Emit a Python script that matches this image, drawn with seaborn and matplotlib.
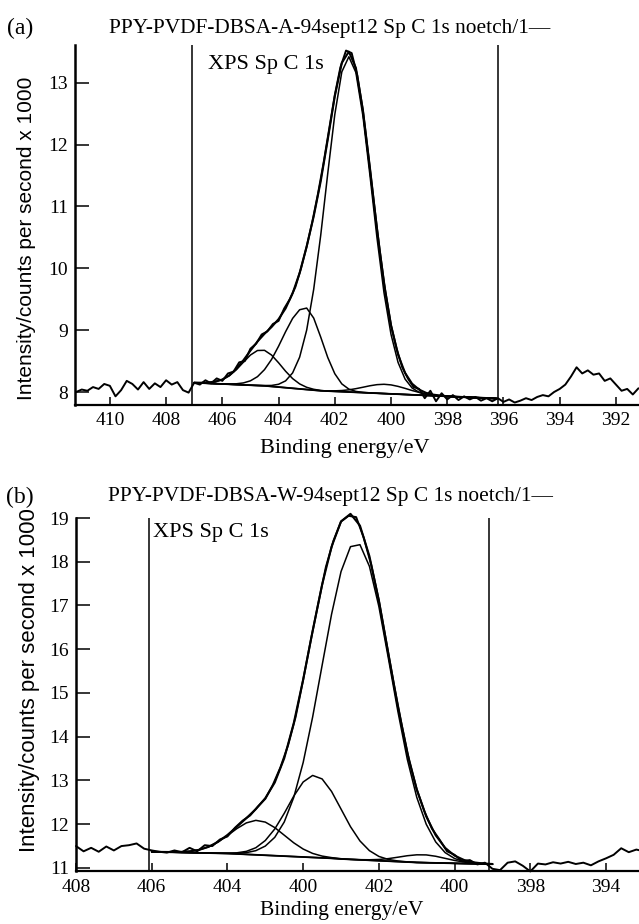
import numpy as np
import matplotlib
matplotlib.use("Agg")
import matplotlib.pyplot as plt
import seaborn as sns

sns.set_theme(style="ticks")
plt.rcParams["font.family"] = ["Liberation Serif", "DejaVu Serif"]

# ---------------- panel (a) data ----------------
a_panel = "(a)"
a_title = "PPY-PVDF-DBSA-A-94sept12 Sp C 1s noetch/1\u2014"
a_region = "XPS Sp C 1s"
a_window = [407.08, 396.2]
a_xticks = [410, 408, 406, 404, 402, 400, 398, 396, 394, 392]
a_xticklabels = ["410", "408", "406", "404", "402", "400", "398", "396", "394", "392"]
a_yticks = [8, 9, 10, 11, 12, 13]
a_raw_energy = np.linspace(411.2, 391.2, 101)
a_raw = [8.00, 8.04, 8.02, 8.08, 8.05, 8.13, 8.10, 7.93, 8.03, 8.18,
         8.13, 8.04, 8.16, 8.05, 8.14, 8.08, 8.19, 8.12, 8.16, 8.03,
         7.99, 8.15, 8.12, 8.19, 8.14, 8.22, 8.18, 8.30, 8.33, 8.48,
         8.50, 8.70, 8.78, 8.93, 8.98, 9.10, 9.15, 9.35, 9.50, 9.70,
         10.00, 10.35, 10.75, 11.20, 11.70, 12.25, 12.80, 13.25, 13.52, 13.48,
         13.12, 12.55, 11.80, 11.03, 10.28, 9.62, 9.08, 8.70, 8.40, 8.22,
         8.08, 8.05, 7.90, 8.02, 7.85, 7.98, 7.88, 7.95, 7.87, 7.93,
         7.88, 7.92, 7.86, 7.90, 7.85, 7.90, 7.84, 7.88, 7.83, 7.86,
         7.90, 7.87, 7.92, 7.95, 7.93, 8.00, 8.05, 8.12, 8.25, 8.40,
         8.30, 8.35, 8.28, 8.30, 8.18, 8.22, 8.12, 8.02, 8.05, 7.96,
         8.06]
a_fit_energy = np.linspace(407.0, 396.25, 44)
a_baseline = [8.15, 8.145, 8.14, 8.135, 8.13, 8.125, 8.12, 8.115, 8.11, 8.105,
              8.10, 8.09, 8.08, 8.07, 8.06, 8.05, 8.04, 8.03, 8.02, 8.015,
              8.01, 8.005, 8.0, 7.995, 7.99, 7.985, 7.98, 7.975, 7.97, 7.965,
              7.96, 7.955, 7.95, 7.945, 7.94, 7.935, 7.93, 7.925, 7.92, 7.915,
              7.91, 7.905, 7.9, 7.895]
a_peak1 = [0.001, 0.004, 0.012, 0.031, 0.07, 0.139, 0.241, 0.367, 0.488, 0.566,
           0.574, 0.508, 0.393, 0.266, 0.157, 0.081, 0.036, 0.014, 0.005, 0,
           0, 0, 0, 0, 0, 0, 0, 0, 0, 0,
           0, 0, 0, 0, 0, 0, 0, 0, 0, 0,
           0, 0, 0, 0]
a_peak2 = [0, 0, 0.001, 0.001, 0.002, 0.005, 0.013, 0.032, 0.071, 0.143,
           0.262, 0.436, 0.66, 0.905, 1.13, 1.28, 1.317, 1.165, 0.867, 0.543,
           0.286, 0.126, 0.047, 0.015, 0.004, 0.001, 0, 0, 0, 0,
           0, 0, 0, 0, 0, 0, 0, 0, 0, 0,
           0, 0, 0, 0]
a_peak3 = [0, 0, 0, 0, 0, 0, 0, 0, 0, 0.002,
           0.005, 0.016, 0.045, 0.11, 0.249, 0.514, 0.961, 1.631, 2.516, 3.52,
           4.475, 5.171, 5.42, 5.171, 4.475, 3.52, 2.516, 1.631, 0.961, 0.514,
           0.249, 0.11, 0.045, 0.016, 0.005, 0.001, 0, 0, 0, 0,
           0, 0, 0, 0]
a_peak4 = [0, 0, 0, 0, 0, 0, 0, 0, 0, 0,
           0, 0, 0, 0, 0, 0, 0, 0, 0, 0.004,
           0.009, 0.019, 0.035, 0.059, 0.087, 0.116, 0.139, 0.15, 0.145, 0.126,
           0.099, 0.069, 0.044, 0.025, 0.013, 0.006, 0.002, 0, 0, 0,
           0, 0, 0, 0]
a_envelope = [8.151, 8.15, 8.154, 8.169, 8.202, 8.269, 8.374, 8.514, 8.669, 8.816,
              8.941, 9.05, 9.178, 9.351, 9.596, 9.925, 10.354, 10.84, 11.408, 12.082,
              12.78, 13.321, 13.502, 13.24, 12.556, 11.622, 10.635, 9.756, 9.076, 8.605,
              8.308, 8.134, 8.039, 7.986, 7.958, 7.942, 7.932, 7.925, 7.92, 7.915,
              7.91, 7.905, 7.9, 7.895]

# ---------------- panel (b) data ----------------
b_panel = "(b)"
b_title = "PPY-PVDF-DBSA-W-94sept12 Sp C 1s noetch/1\u2014"
b_region = "XPS Sp C 1s"
b_window = [406.07, 397.09]
b_xticks = [408, 406, 404, 402, 400, 398, 396, 394]
b_xticklabels = ["408", "406", "404", "400", "402", "400", "398", "394"]
b_yticks = [11, 12, 13, 14, 15, 16, 17, 18, 19]
b_raw_energy = np.linspace(408.0, 393.0, 76)
b_raw = [11.50, 11.38, 11.46, 11.37, 11.49, 11.40, 11.50, 11.52, 11.56, 11.44,
         11.40, 11.37, 11.35, 11.40, 11.36, 11.46, 11.38, 11.52, 11.50, 11.65,
         11.72, 11.92, 12.08, 12.20, 12.40, 12.58, 12.90, 13.30, 13.80, 14.45,
         15.30, 16.20, 17.05, 17.88, 18.48, 18.92, 19.05, 19.02, 18.55, 17.92,
         17.12, 16.15, 15.18, 14.28, 13.45, 12.80, 12.30, 11.90, 11.65, 11.38,
         11.30, 11.15, 11.18, 11.08, 11.12, 10.98, 10.95, 11.12, 11.15, 11.05,
         10.92, 11.10, 11.08, 11.13, 11.10, 11.14, 11.09, 11.12, 11.06, 11.15,
         11.22, 11.30, 11.45, 11.36, 11.42, 11.38]
b_fit_energy = np.linspace(406.0, 397.0, 37)
b_baseline = [11.37, 11.365, 11.36, 11.355, 11.35, 11.345, 11.34, 11.335, 11.33, 11.32,
              11.31, 11.30, 11.29, 11.28, 11.27, 11.26, 11.25, 11.24, 11.23, 11.22,
              11.205, 11.195, 11.185, 11.175, 11.165, 11.155, 11.145, 11.135, 11.125, 11.12,
              11.115, 11.11, 11.105, 11.10, 11.095, 11.09, 11.085]
b_peak1 = [0, 0.001, 0.004, 0.011, 0.029, 0.068, 0.141, 0.257, 0.411, 0.58,
           0.72, 0.788, 0.758, 0.642, 0.479, 0.315, 0.182, 0.092, 0.041, 0.016,
           0.006, 0.002, 0, 0, 0, 0, 0, 0, 0, 0,
           0, 0, 0, 0, 0, 0, 0]
b_peak2 = [0, 0, 0, 0, 0, 0, 0.001, 0.002, 0.008, 0.026,
           0.069, 0.162, 0.337, 0.611, 0.978, 1.38, 1.715, 1.875, 1.805, 1.528,
           1.141, 0.748, 0.432, 0.22, 0.098, 0.039, 0.014, 0.004, 0.001, 0,
           0, 0, 0, 0, 0, 0, 0]
b_peak3 = [0, 0, 0, 0, 0, 0, 0, 0.002, 0.005, 0.016,
           0.04, 0.095, 0.21, 0.42, 0.78, 1.35, 2.16, 3.21, 4.40, 5.58,
           6.57, 7.15, 7.205, 6.72, 5.81, 4.64, 3.44, 2.35, 1.49, 0.88,
           0.48, 0.24, 0.11, 0.048, 0.019, 0.007, 0.0025]
b_peak4 = [0, 0, 0, 0, 0, 0, 0, 0, 0, 0,
           0, 0, 0, 0, 0, 0, 0, 0, 0, 0,
           0, 0, 0.004, 0.012, 0.029, 0.058, 0.1, 0.144, 0.175, 0.178,
           0.152, 0.109, 0.066, 0.034, 0.014, 0.005, 0.002]
b_envelope = [11.37, 11.366, 11.364, 11.366, 11.379, 11.413, 11.482, 11.596, 11.754, 11.942,
              12.139, 12.345, 12.595, 12.953, 13.507, 14.305, 15.307, 16.417, 17.476, 18.344,
              18.922, 19.095, 18.826, 18.127, 17.102, 15.892, 14.699, 13.633, 12.791, 12.178,
              11.747, 11.459, 11.281, 11.182, 11.128, 11.102, 11.09]

xlabel = "Binding energy/eV"
ylabel = "Intensity/counts per second x 1000"

W, H = 639, 924
fig = plt.figure(figsize=(W / 100, H / 100), dpi=100)
fig.patch.set_facecolor("white")
SANS = ["Liberation Sans", "DejaVu Sans"]


def px_axes(left, top, right, bottom):
    return fig.add_axes([left / W, 1 - bottom / H, (right - left) / W, (bottom - top) / H])


def draw(ax, raw_e, raw, fit_e, base, peaks, env, window):
    base = np.asarray(base)
    sns.lineplot(x=raw_e, y=raw, ax=ax, color="black", lw=1.4, sort=False, clip_on=False)
    sns.lineplot(x=fit_e, y=base, ax=ax, color="black", lw=1.3, sort=False)
    for p in peaks:
        sns.lineplot(x=fit_e, y=base + np.asarray(p), ax=ax, color="black", lw=1.1,
                     sort=False, clip_on=False)
    sns.lineplot(x=fit_e, y=env, ax=ax, color="black", lw=1.5, sort=False, clip_on=False)
    for w in window:
        ax.axvline(w, color="black", lw=1.1)
    for s in ["top", "right"]:
        ax.spines[s].set_visible(False)
    ax.spines["left"].set_linewidth(1.8)
    ax.spines["bottom"].set_linewidth(1.6)
    ax.spines["left"].set_color("black")
    ax.spines["bottom"].set_color("black")
    ax.set_facecolor("white")
    ax.grid(False)


# ---------------- panel (a) ----------------
ax1 = px_axes(75, 45, 639, 405)
draw(ax1, a_raw_energy, a_raw, a_fit_energy, a_baseline,
     [a_peak1, a_peak2, a_peak3, a_peak4], a_envelope, a_window)
ax1.set_xlim(411.24, 391.18)
ax1.set_ylim(7.79, 13.61)
ax1.set_xticks(a_xticks)
ax1.set_xticklabels(a_xticklabels)
ax1.set_yticks(a_yticks)
ax1.tick_params(axis="y", direction="in", length=10, width=1.1, labelsize=14, pad=5, colors="black")
ax1.tick_params(axis="x", direction="in", length=6, width=1.1, labelsize=14, pad=5, colors="black")
ax1.set_xlabel(xlabel, fontsize=16, color="black")
ax1.xaxis.set_label_coords((345 - 75) / 564, -(448 - 405) / 360)
ax1.xaxis.label.set_va("center")
ax1.set_ylabel(ylabel, fontsize=15, family=SANS, color="black")
ax1.yaxis.set_label_coords((27 - 75) / 564, (405 - 238) / 360)
ax1.yaxis.label.set_va("center")
ax1.text((208 - 75) / 564, (405 - 65) / 360, a_region, transform=ax1.transAxes,
         ha="left", va="center", fontsize=16, color="black")
fig.text(20 / W, 1 - 28 / H, a_panel, ha="center", va="center", fontsize=17, color="black")
fig.text(330 / W, 1 - 28 / H, a_title, ha="center", va="center", fontsize=15.4, color="black")

# ---------------- panel (b) ----------------
ax2 = px_axes(76, 518, 639, 871)
draw(ax2, b_raw_energy, b_raw, b_fit_energy, b_baseline,
     [b_peak1, b_peak2, b_peak3, b_peak4], b_envelope, b_window)
ax2.set_xlim(408.0, 393.13)
ax2.set_ylim(10.93, 19.0)
ax2.set_xticks(b_xticks)
ax2.set_xticklabels(b_xticklabels)
ax2.set_yticks(b_yticks)
ax2.tick_params(axis="y", direction="in", length=10, width=1.1, labelsize=14, pad=5, colors="black")
ax2.tick_params(axis="x", direction="in", length=6, width=1.1, labelsize=14, pad=6, colors="black")
ax2.set_xlabel(xlabel, fontsize=15.5, color="black")
ax2.xaxis.set_label_coords((342 - 76) / 563, -(911 - 871) / 353)
ax2.xaxis.label.set_va("center")
ax2.set_ylabel(ylabel, fontsize=16, family=SANS, color="black")
ax2.yaxis.set_label_coords((30 - 76) / 563, (871 - 680) / 353)
ax2.yaxis.label.set_va("center")
ax2.text((153 - 76) / 563, (871 - 533) / 353, b_region, transform=ax2.transAxes,
         ha="left", va="center", fontsize=16, color="black")
fig.text(20 / W, 1 - 497 / H, b_panel, ha="center", va="center", fontsize=17, color="black")
fig.text(330 / W, 1 - 497 / H, b_title, ha="center", va="center", fontsize=15.4, color="black")

fig.savefig("out.png", dpi=100, facecolor="white")
